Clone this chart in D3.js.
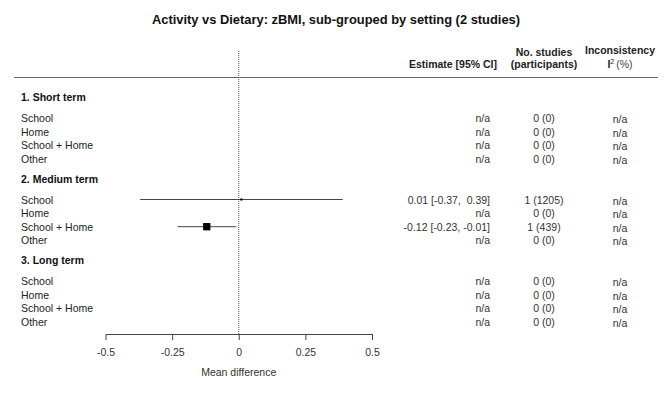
<!DOCTYPE html>
<html>
<head>
<meta charset="utf-8">
<script src="https://cdn.jsdelivr.net/npm/d3@7"></script>
<style>
  body { margin: 0; background: #fff; }
  svg { font-family: "Liberation Sans", Arial, sans-serif; }
</style>
</head>
<body>
<div id="forest"></div>
<script>
const title = 'Activity vs Dietary: zBMI, sub-grouped by setting (2 studies)';
const groups = ['1. Short term', '2. Medium term', '3. Long term'];
const settings = ['School', 'Home', 'School + Home', 'Other'];

// one entry per group x setting, null = no data
const estimates = [null, null, null, null, 0.01, null, -0.12, null, null, null, null, null];
const ciLow    = [null, null, null, null, -0.37, null, -0.23, null, null, null, null, null];
const ciHigh   = [null, null, null, null, 0.39, null, -0.01, null, null, null, null, null];
const nStudies = [0, 0, 0, 0, 1, 0, 1, 0, 0, 0, 0, 0];
const nPart    = [0, 0, 0, 0, 1205, 0, 439, 0, 0, 0, 0, 0];
const ciText   = ['n/a', 'n/a', 'n/a', 'n/a', '0.01 [-0.37,\u00a0 0.39]', 'n/a', '-0.12 [-0.23, -0.01]', 'n/a', 'n/a', 'n/a', 'n/a', 'n/a'];
const i2Text   = ['n/a', 'n/a', 'n/a', 'n/a', 'n/a', 'n/a', 'n/a', 'n/a', 'n/a', 'n/a', 'n/a', 'n/a'];
const xTicks = [-0.5, -0.25, 0, 0.25, 0.5];
const xTickLabels = ['-0.5', '-0.25', '0', '0.25', '0.5'];

function drawForest(containerId) {
  const width = 672, height = 399;
  const fs = 10.5;

  const svg = d3.select(containerId).append('svg')
    .attr('width', width)
    .attr('height', height);

  const x = d3.scaleLinear().domain([-0.5, 0.5]).range([105.5, 372]);

  // rows: group header then settings
  const groupY = g => 97 + g * 81.5;
  const rowY = (g, i) => 118 + i * 13.6 + g * 81.5;

  const rows = [];
  groups.forEach((gName, g) => {
    settings.forEach((s, i) => {
      const k = g * settings.length + i;
      rows.push({
        g, i, setting: s,
        est: estimates[k], lo: ciLow[k], hi: ciHigh[k],
        ci: ciText[k], studies: `${nStudies[k]} (${nPart[k]})`, i2: i2Text[k]
      });
    });
  });

  // marker size from inverse variance
  const withData = rows.filter(d => d.est !== null);
  withData.forEach(d => { const se = (d.hi - d.lo) / 3.92; d.w = 1 / (se * se); });
  const size = d3.scaleSqrt().domain([0, d3.max(withData, d => d.w)]).range([0, 7.3]);

  // title
  svg.append('text')
    .attr('x', 336).attr('y', 24)
    .attr('text-anchor', 'middle')
    .style('font-weight', 'bold')
    .style('font-size', '12.9px')
    .attr('fill', '#111')
    .text(title);

  // column headers
  const hdr = svg.append('g').style('font-size', fs + 'px').attr('fill', '#222');
  hdr.append('text').attr('x', 497).attr('y', 68).attr('text-anchor', 'end')
    .style('font-weight', 'bold').text('Estimate [95% CI]');
  hdr.append('text').attr('x', 544).attr('y', 56).attr('text-anchor', 'middle')
    .style('font-weight', 'bold').text('No. studies');
  hdr.append('text').attr('x', 544).attr('y', 68).attr('text-anchor', 'middle')
    .style('font-weight', 'bold').text('(participants)');
  hdr.append('text').attr('x', 620).attr('y', 54).attr('text-anchor', 'middle')
    .style('font-weight', 'bold').text('Inconsistency');
  const i2 = hdr.append('text').attr('x', 620).attr('y', 68).attr('text-anchor', 'middle');
  i2.append('tspan').style('font-weight', 'bold').text('I');
  i2.append('tspan').attr('dy', -4).style('font-size', '7px').text('2');
  i2.append('tspan').attr('dy', 4).attr('dx', 2).attr('fill', '#444').text('(%)');

  // header rule
  svg.append('line')
    .attr('x1', 14).attr('x2', 658)
    .attr('y1', 77.5).attr('y2', 77.5)
    .attr('stroke', '#666').attr('stroke-width', 1.2);

  // zero line
  svg.append('line')
    .attr('x1', x(0)).attr('x2', x(0))
    .attr('y1', 51).attr('y2', 334)
    .attr('stroke', '#555').attr('stroke-width', 1)
    .attr('stroke-dasharray', '1,1');

  // group headers
  svg.selectAll('text.group')
    .data(groups)
    .enter().append('text')
    .attr('class', 'group')
    .attr('x', 21).attr('y', (d, g) => groupY(g) + 4)
    .style('font-weight', 'bold').style('font-size', fs + 'px')
    .attr('fill', '#111')
    .text(d => d);

  // row labels and columns
  const row = svg.selectAll('g.row')
    .data(rows)
    .enter().append('g')
    .attr('class', 'row')
    .attr('transform', d => `translate(0, ${rowY(d.g, d.i) + 4})`)
    .style('font-size', fs + 'px');

  row.append('text').attr('x', 21).attr('fill', '#222').text(d => d.setting);
  row.append('text').attr('x', 490).attr('text-anchor', 'end').attr('fill', '#333').text(d => d.ci);
  row.append('text').attr('x', 544).attr('text-anchor', 'middle').attr('fill', '#333').text(d => d.studies);
  row.append('text').attr('x', 620).attr('y', 1).attr('text-anchor', 'middle').attr('fill', '#333').text(d => d.i2);

  // CI lines and markers
  const marks = svg.selectAll('g.mark')
    .data(withData)
    .enter().append('g')
    .attr('class', 'mark')
    .attr('transform', d => `translate(0, ${rowY(d.g, d.i)})`);

  marks.append('line')
    .attr('x1', d => x(d.lo)).attr('x2', d => x(d.hi))
    .attr('stroke', '#444').attr('stroke-width', 1);

  marks.append('rect')
    .attr('x', d => x(d.est) - Math.max(size(d.w), 2) / 2)
    .attr('y', d => -Math.max(size(d.w), 2) / 2)
    .attr('width', d => Math.max(size(d.w), 2))
    .attr('height', d => Math.max(size(d.w), 2))
    .attr('fill', '#000');

  // x axis
  const axis = svg.append('g')
    .attr('transform', 'translate(0, 334)')
    .call(d3.axisBottom(x).tickValues(xTicks).tickFormat((d, i) => xTickLabels[i]).tickSize(6).tickSizeOuter(0));
  axis.select('.domain').attr('stroke', '#444');
  axis.selectAll('.tick line').attr('stroke', '#444');
  axis.selectAll('.tick text')
    .attr('y', 15)
    .style('font-size', fs + 'px')
    .style('font-family', '"Liberation Sans", Arial, sans-serif')
    .attr('fill', '#333');

  svg.append('text')
    .attr('x', x(0)).attr('y', 376)
    .attr('text-anchor', 'middle')
    .style('font-size', fs + 'px')
    .attr('fill', '#333')
    .text('Mean difference');
}

drawForest('#forest');
</script>
</body>
</html>
